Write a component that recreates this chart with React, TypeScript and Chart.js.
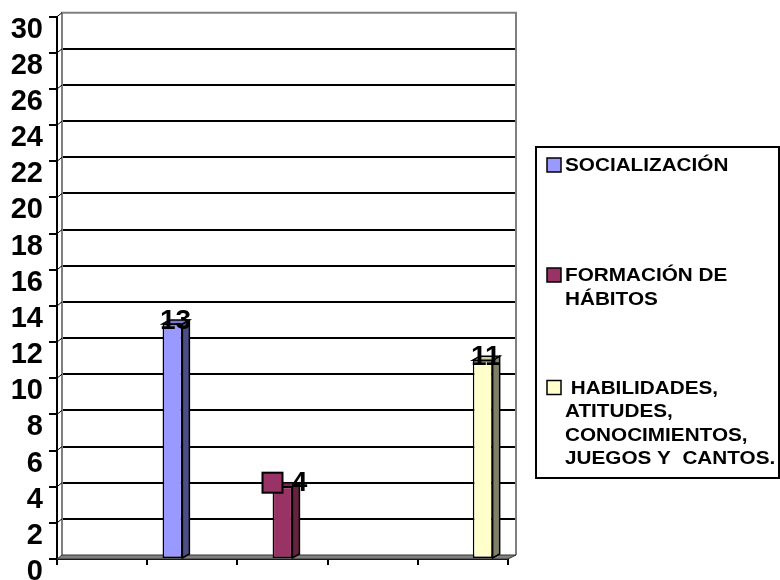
import React, { useEffect, useRef } from "react";
import { Chart, registerables } from "chart.js";

Chart.register(...registerables);

const categories = ["", "", "", "", ""];
const socializacion = [null, 13, null, null, null];
const formacion = [null, null, 4, null, null];
const habilidades = [null, null, null, null, 11];
const seriesNames = [
  "SOCIALIZACIÓN",
  "FORMACIÓN DE HÁBITOS",
  " HABILIDADES, ATITUDES, CONOCIMIENTOS, JUEGOS Y  CANTOS.",
];
const legendLines = [
  ["SOCIALIZACIÓN"],
  ["FORMACIÓN DE", "HÁBITOS"],
  [" HABILIDADES,", "ATITUDES,", "CONOCIMIENTOS,", "JUEGOS Y  CANTOS."],
];
const frontColors = ["#9999FF", "#993366", "#FFFFCC"];
const sideColors = ["#4D4D85", "#66223F", "#80806A"];
const topColors = ["#7A7ACC", "#7A2952", "#CCCCA3"];
const showKeyInLabel = [false, true, false];
const yMin = 0;
const yMax = 30;
const yStep = 2;

const FONT = '"Liberation Sans", Arial, sans-serif';
const DX = 5;
const DY = -4;

const wallPlugin = {
  id: "wall",
  beforeDatasetsDraw(chart: any) {
    const { ctx, chartArea } = chart;
    const y = chart.scales.y;
    const l = chartArea.left;
    const r = chartArea.right;
    const t = chartArea.top;
    const b = chartArea.bottom;
    ctx.save();
    ctx.strokeStyle = "#000";
    ctx.lineWidth = 2;
    for (let v = yMin + yStep; v < yMax; v += yStep) {
      const py = Math.round(y.getPixelForValue(v) + DY);
      ctx.beginPath();
      ctx.moveTo(l + DX, py);
      ctx.lineTo(r + DX + 3, py);
      ctx.stroke();
    }
    ctx.strokeStyle = "#808080";
    ctx.lineWidth = 2;
    ctx.beginPath();
    ctx.moveTo(l + DX, b + DY);
    ctx.lineTo(l + DX, t + DY);
    ctx.lineTo(r + DX + 3, t + DY);
    ctx.lineTo(r + DX + 3, b + DY);
    ctx.stroke();
    ctx.strokeStyle = "#000";
    ctx.lineWidth = 1;
    for (let v = yMin + yStep; v <= yMax; v += yStep) {
      const py = y.getPixelForValue(v);
      ctx.beginPath();
      ctx.moveTo(l, py);
      ctx.lineTo(l + DX, py + DY);
      ctx.stroke();
    }
    ctx.fillStyle = "#808080";
    ctx.strokeStyle = "#333";
    ctx.lineWidth = 1;
    ctx.beginPath();
    ctx.moveTo(l, b);
    ctx.lineTo(r, b);
    ctx.lineTo(r + DX + 3, b + DY);
    ctx.lineTo(l + DX, b + DY);
    ctx.closePath();
    ctx.fill();
    ctx.stroke();
    ctx.restore();
  },
  afterDatasetsDraw(chart: any) {
    const { ctx } = chart;
    const d = 7;
    ctx.save();
    ctx.lineWidth = 1.5;
    ctx.strokeStyle = "#000";
    chart.data.datasets.forEach((ds: any, di: number) => {
      const meta = chart.getDatasetMeta(di);
      meta.data.forEach((el: any, i: number) => {
        const v = ds.data[i];
        if (v === null || v === undefined) return;
        const { x, y, base, width } = el.getProps(["x", "y", "base", "width"], true);
        const left = x - width / 2;
        const right = x + width / 2;
        ctx.fillStyle = sideColors[di];
        ctx.beginPath();
        ctx.moveTo(right, y);
        ctx.lineTo(right + d, y + DY);
        ctx.lineTo(right + d, base + DY);
        ctx.lineTo(right, base);
        ctx.closePath();
        ctx.fill();
        ctx.stroke();
        ctx.fillStyle = topColors[di];
        ctx.beginPath();
        ctx.moveTo(left, y);
        ctx.lineTo(left + d, y + DY);
        ctx.lineTo(right + d, y + DY);
        ctx.lineTo(right, y);
        ctx.closePath();
        ctx.fill();
        ctx.stroke();
      });
    });
    ctx.font = `bold 28px ${FONT}`;
    ctx.fillStyle = "#000";
    ctx.textBaseline = "middle";
    ctx.textAlign = "center";
    chart.data.datasets.forEach((ds: any, di: number) => {
      const meta = chart.getDatasetMeta(di);
      meta.data.forEach((el: any, i: number) => {
        const v = ds.data[i];
        if (v === null || v === undefined) return;
        const { x, y } = el.getProps(["x", "y"], true);
        const cy = y - 4;
        if (showKeyInLabel[di]) {
          ctx.fillStyle = frontColors[di];
          ctx.lineWidth = 2;
          ctx.fillRect(x - 20, cy - 10, 20, 20);
          ctx.strokeRect(x - 20, cy - 10, 20, 20);
          ctx.fillStyle = "#000";
          ctx.fillText(String(v), x + 17, cy + 1);
        } else {
          ctx.fillText(String(v), x + 3, cy + 1);
        }
      });
    });
    ctx.restore();
  },
  afterDraw(chart: any) {
    const { ctx, chartArea } = chart;
    const bx = chartArea.right + 28;
    const by = 147;
    const bw = 243;
    const bh = 331;
    ctx.save();
    ctx.strokeStyle = "#000";
    ctx.lineWidth = 2;
    ctx.strokeRect(bx, by, bw, bh);
    const itemBaselines = [171, 281, 393.5];
    const lineHeights = [24, 24, 23.5];
    ctx.font = `bold 19px ${FONT}`;
    ctx.textBaseline = "alphabetic";
    ctx.textAlign = "left";
    chart.data.datasets.forEach((ds: any, di: number) => {
      const base = itemBaselines[di];
      ctx.fillStyle = ds.backgroundColor;
      ctx.lineWidth = 1.5;
      ctx.fillRect(bx + 11, base - 13, 14, 14);
      ctx.strokeRect(bx + 11, base - 13, 14, 14);
      ctx.fillStyle = "#000";
      legendLines[di].forEach((line, li) => {
        ctx.save();
        ctx.translate(bx + 29, base + li * lineHeights[di]);
        ctx.scale(1.09, 1);
        ctx.fillText(line, 0, 0);
        ctx.restore();
      });
    });
    ctx.restore();
  },
};

export default function App() {
  const ref = useRef<HTMLCanvasElement>(null);
  useEffect(() => {
    if (!ref.current) return;
    const data = [socializacion, formacion, habilidades];
    const chart = new Chart(ref.current, {
      type: "bar",
      data: {
        labels: categories,
        datasets: data.map((d, i) => ({
          label: seriesNames[i],
          data: d,
          backgroundColor: frontColors[i],
          borderColor: "#000",
          borderWidth: 1.5,
          borderSkipped: false,
          categoryPercentage: 0.66,
          barPercentage: 1.0,
        })),
      },
      options: {
        responsive: false,
        animation: false,
        devicePixelRatio: 1,
        layout: { padding: { left: 0, right: 272, top: 16.7, bottom: 15 } },
        plugins: { legend: { display: false }, tooltip: { enabled: false } },
        scales: {
          x: {
            grid: {
              display: true,
              drawOnChartArea: false,
              drawTicks: true,
              tickLength: 6,
              color: "#000",
              lineWidth: 2,
              offset: true,
            },
            border: { display: true, color: "#000", width: 2 },
            ticks: { display: false },
            afterFit: (s: any) => {
              s.height = 6;
              s.paddingLeft = 0;
              s.paddingRight = 0;
            },
          },
          y: {
            min: yMin,
            max: yMax,
            grid: {
              display: true,
              drawOnChartArea: false,
              drawTicks: true,
              tickLength: 8,
              color: "#000",
              lineWidth: 2,
            },
            border: { display: true, color: "#000", width: 2 },
            ticks: {
              stepSize: yStep,
              autoSkip: false,
              color: "#000",
              padding: 6,
              labelOffset: 13,
              font: { family: FONT, size: 29, weight: "bold" },
            },
            afterFit: (s: any) => {
              s.width = 57;
              s.paddingTop = 0;
              s.paddingBottom = 0;
            },
          },
        },
      },
      plugins: [wallPlugin],
    });
    return () => chart.destroy();
  }, []);
  return (
    <div style={{ position: "fixed", left: 0, top: 0, width: 780, height: 580, background: "#fff" }}>
      <canvas ref={ref} width={780} height={580} style={{ display: "block" }} />
    </div>
  );
}
